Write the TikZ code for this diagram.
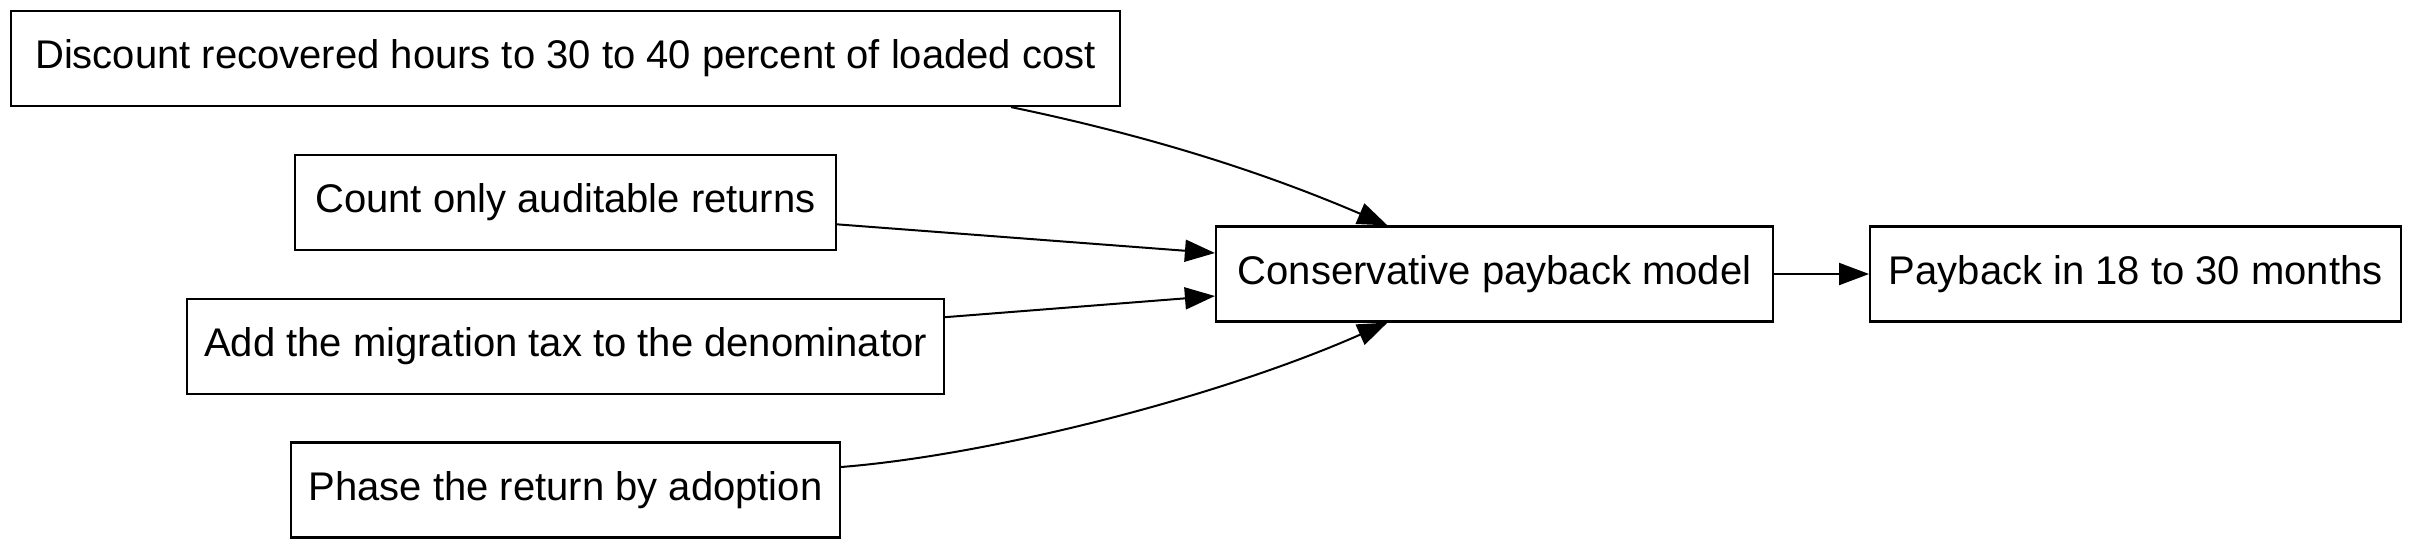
\documentclass[tikz,border=0pt]{standalone}
\usepackage{fontspec}
\setmainfont{Liberation Sans}
\usepackage{tikz}
\usetikzlibrary{arrows.meta,positioning,calc}
\tikzset{
  blk/.style={draw,line width=0.65pt,minimum height=28.5pt,inner xsep=5pt,font=\fontsize{12}{14}\selectfont},
  arr/.style={-{Triangle[length=9pt,width=6.6pt]},line width=0.6pt}
}
\begin{document}
\begin{tikzpicture}[x=0.3pt,y=-0.3pt,node distance=14pt and 28.5pt]
  \useasboundingbox (0,0) rectangle (2411,549);
  \node[blk,minimum width=332.7pt] (disc) at (565.5,58.5) {Discount recovered hours to 30 to 40 percent of loaded cost};
  \node[blk,minimum width=162.3pt,below=of disc] (audit) {Count only auditable returns};
  \node[blk,minimum width=227.1pt,below=of audit] (tax) {Add the migration tax to the denominator};
  \node[blk,minimum width=164.7pt,below=of tax] (phase) {Phase the return by adoption};
  \node[blk,minimum width=167.1pt] (model) at (1494.5,274) {Conservative payback model};
  \node[blk,minimum width=159.3pt,right=of model] (pay) {Payback in 18 to 30 months};
  \draw[arr] ($(disc.south east)+(-110,0)$) .. controls +(120,25) and +(-140,-60) .. ($(model.north)+(-107,0)$);
  \draw[arr] ($(audit.east)+(0,22)$) -- ($(model.west)+(0,-21)$);
  \draw[arr] ($(tax.east)+(0,-29)$) -- ($(model.west)+(0,22)$);
  \draw[arr] ($(phase.east)+(0,-23)$) .. controls +(150,-12) and +(-170,75) .. ($(model.south)+(-107,0)$);
  \draw[arr] (model) -- (pay);
\end{tikzpicture}
\end{document}
